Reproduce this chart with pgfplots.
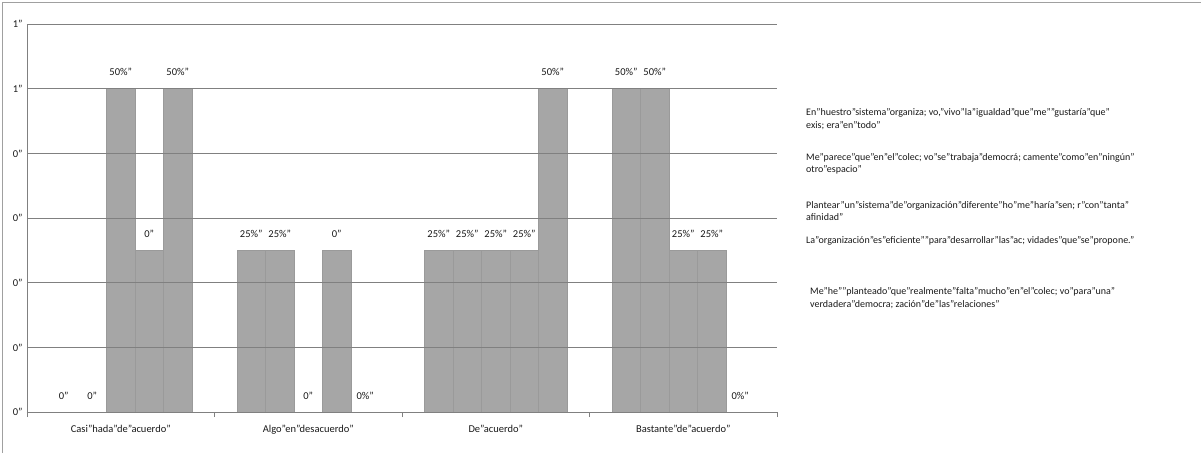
\documentclass[border=0pt]{standalone}
\usepackage{pgfplots}
\pgfplotsset{compat=1.18}
\usepackage{fontspec}
\setmainfont{Carlito}
\definecolor{barc}{RGB}{166,166,166}
\definecolor{bare}{RGB}{154,154,154}
\definecolor{gridc}{RGB}{128,128,128}
\definecolor{framec}{RGB}{160,160,160}
\begin{document}
\begin{tikzpicture}
\useasboundingbox (0pt,0pt) rectangle (1201pt,-453pt);
\draw[framec, line width=0.8pt] (2pt,-453pt) -- (2pt,-2pt) -- (1201pt,-2pt);
\begin{axis}[
  at={(27pt,-412pt)}, anchor=south west,
  scale only axis, width=750pt, height=388pt,
  xmin=-0.5, xmax=3.5, ymin=0, ymax=0.6,
  ybar=0pt, bar width=28.5pt,
  axis x line*=bottom, axis y line*=left,
  axis line style={gridc, -},
  axis on top, clip=false,
  ymajorgrids, grid style={gridc, line width=0.6pt},
  ytick={0,0.1,0.2,0.3,0.4,0.5,0.6},
  yticklabels={0",0",0",0",0",1",1"},
  xtick={0,1,2,3},
  xticklabels={Casi"hada"de"acuerdo",Algo"en"desacuerdo",De"acuerdo",Bastante"de"acuerdo"},
  minor xtick={-0.5,0.5,1.5,2.5,3.5},
  tick align=outside, major tick length=0pt, minor tick length=5pt,
  minor tick style={gridc},
  ticklabel style={font=\fontsize{10.5}{12}\selectfont, text=black!90},
  xticklabel style={yshift=-10pt},
  yticklabel style={xshift=-1pt},
  nodes near coords, point meta=explicit symbolic,
  every node near coord/.append style={font=\fontsize{10.5}{12}\selectfont, text=black!90, anchor=base, yshift=13pt, inner sep=0pt},
]
\addplot[fill=barc, draw=bare, line width=0.4pt] coordinates {(0,0) [0"] (1,0.25) [25\%"] (2,0.25) [25\%"] (3,0.5) [50\%"]};
\addplot[fill=barc, draw=bare, line width=0.4pt] coordinates {(0,0) [0"] (1,0.25) [25\%"] (2,0.25) [25\%"] (3,0.5) [50\%"]};
\addplot[fill=barc, draw=bare, line width=0.4pt] coordinates {(0,0.5) [50\%"] (1,0) [0"] (2,0.25) [25\%"] (3,0.25) [25\%"]};
\addplot[fill=barc, draw=bare, line width=0.4pt] coordinates {(0,0.25) [0"] (1,0.25) [0"] (2,0.25) [25\%"] (3,0.25) [25\%"]};
\addplot[fill=barc, draw=bare, line width=0.4pt] coordinates {(0,0.5) [50\%"] (1,0) [0\%"] (2,0.5) [50\%"] (3,0) [0\%"]};
\end{axis}
\begin{scope}[every node/.style={anchor=west, align=left, inner sep=0pt, text=black!90, font=\fontsize{10}{12.5}\selectfont}]
\node at (806pt,-119pt) {En"huestro"sistema"organiza; vo,"vivo"la"igualdad"que"me""gustaría"que"\\exis; era"en"todo"};
\node at (806pt,-164pt) {Me"parece"que"en"el"colec; vo"se"trabaja"democrá; camente"como"en"ningún"\\otro"espacio"};
\node at (806pt,-211pt) {Plantear"un"sistema"de"organización"diferente"ho"me"haría"sen; r"con"tanta"\\afinidad"};
\node at (806pt,-241pt) {La"organización"es"eficiente""para"desarrollar"las"ac; vidades"que"se"propone."};
\node at (810pt,-298pt) {Me"he""planteado"que"realmente"falta"mucho"en"el"colec; vo"para"una"\\verdadera"democra; zación"de"las"relaciones"};
\end{scope}
\end{tikzpicture}
\end{document}
